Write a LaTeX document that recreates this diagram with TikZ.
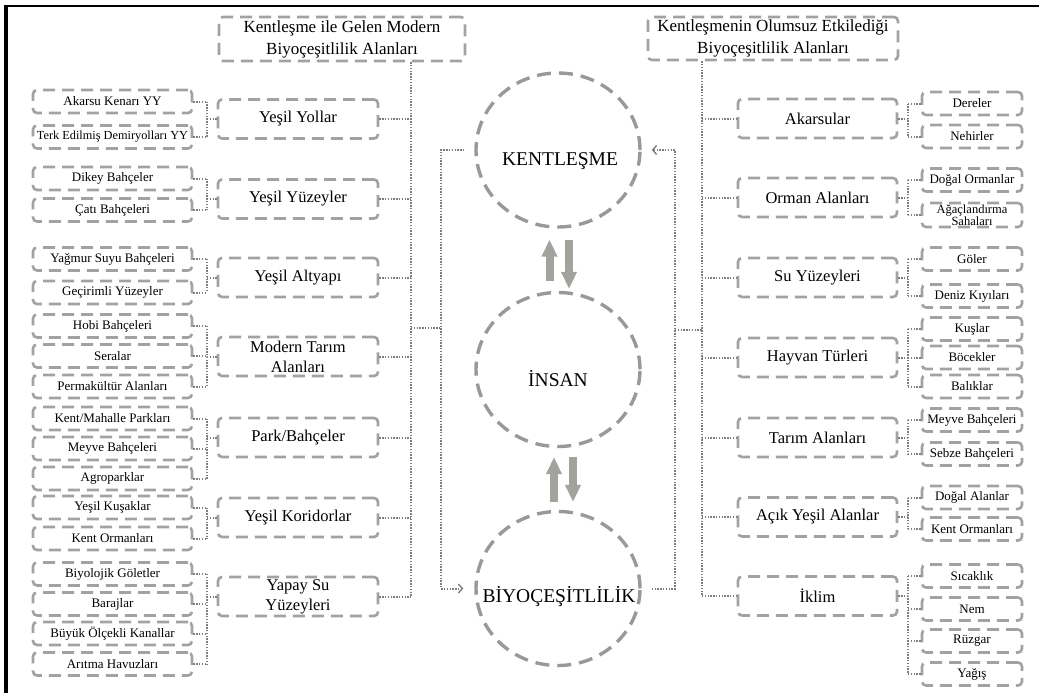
\documentclass[tikz,border=0pt]{standalone}
\usepackage{fontspec}
\setmainfont{Liberation Serif}
\usetikzlibrary{arrows.meta,shapes.geometric,calc}
\definecolor{boxgray}{HTML}{A2A2A2}
\definecolor{dotgray}{HTML}{7E7E7E}
\definecolor{circgray}{HTML}{999999}
\definecolor{arrgray}{HTML}{A3A39E}
\begin{document}
\begin{tikzpicture}[x=1pt,y=-1pt,
  sbox/.style={draw=boxgray, line width=2.6pt, dash pattern=on 12pt off 7pt, rounded corners=4pt,
    minimum width=159pt, minimum height=23pt, inner sep=0pt, align=center,
    font=\fontsize{13}{14}\selectfont},
  rsbox/.style={sbox, minimum width=100pt},
  mbox/.style={draw=boxgray, line width=2.6pt, dash pattern=on 12pt off 7pt, rounded corners=4pt,
    minimum width=160pt, minimum height=39pt, inner sep=0pt, align=center,
    font=\fontsize{16.5}{20}\selectfont},
  hbox/.style={mbox, font=\fontsize{17}{22}\selectfont},
  circ/.style={ellipse, draw=circgray, line width=3.4pt, dash pattern=on 14pt off 8pt,
    minimum width=164pt, minimum height=154pt, inner sep=0pt},
  ctext/.style={anchor=base, font=\fontsize{19.5}{22}\selectfont, inner sep=0pt},
  conn/.style={draw=dotgray, line width=2pt, dash pattern=on 1.4pt off 1.4pt},
  tip/.style={-{Straight Barb[length=4pt,width=9pt,line width=1.4pt]}},
  bigarrow/.style={draw=arrgray, line width=8pt, -{Triangle[width=15pt,length=17pt]}}
]
\useasboundingbox (0,0) rectangle (1039,693);
% frame
\draw[line width=2.5pt] (4,6) -- (1039,6);
\draw[line width=4pt] (6,4.75) -- (6,693);

% headers
\node[hbox, minimum width=246pt, minimum height=44pt] (LH) at (342,39) {Kentleşme ile Gelen Modern\\Biyoçeşitlilik Alanları};
\node[hbox, minimum width=250pt, minimum height=43pt] (RH) at (773,38.5) {Kentleşmenin Olumsuz Etkilediği\\Biyoçeşitlilik Alanları};

% circles
\node[circ] (K) at (558,150) {};
\node[circ] (I) at (558,369.5) {};
\node[circ] (B) at (558,588.5) {};
\node[ctext] (KT) at (560,165) {KENTLEŞME};
\node[ctext] (IT) at (558,386) {İNSAN};
\node[ctext] (BT) at (559,602) {BİYOÇEŞİTLİLİK};

% block arrows
\draw[bigarrow] ($(I.north)+(-8.5,-10)$) -- ($(K.south)+(-8.5,11)$);
\draw[bigarrow] ($(K.south)+(11,11)$) -- ($(I.north)+(11,-2)$);
\draw[bigarrow] ($(B.north)+(-4,-8)$) -- ($(I.south)+(-4,9)$);
\draw[bigarrow] ($(I.south)+(15,9)$) -- ($(B.north)+(15,-8)$);

% left main boxes
\node[mbox] (L1) at (298,119) {Yeşil Yollar};
\node[mbox] (L2) at (298,199) {Yeşil Yüzeyler};
\node[mbox] (L3) at (298,277.5) {Yeşil Altyapı};
\node[mbox] (L4) at (298,356.5) {Modern Tarım\\Alanları};
\node[mbox] (L5) at (298,437.5) {Park/Bahçeler};
\node[mbox] (L6) at (298,517.5) {Yeşil Koridorlar};
\node[mbox] (L7) at (298,596.5) {Yapay Su\\Yüzeyleri};

% left small boxes
\node[sbox] (L1a) at (112.5,101.5) {Akarsu Kenarı YY};
\node[sbox, font=\fontsize{12.3}{14}\selectfont] (L1b) at (112.5,137) {Terk Edilmiş Demiryolları YY};
\node[sbox] (L2a) at (112.5,178.5) {Dikey Bahçeler};
\node[sbox] (L2b) at (112.5,210) {Çatı Bahçeleri};
\node[sbox] (L3a) at (112.5,259) {Yağmur Suyu Bahçeleri};
\node[sbox] (L3b) at (112.5,292.5) {Geçirimli Yüzeyler};
\node[sbox] (L4a) at (112.5,326) {Hobi Bahçeleri};
\node[sbox] (L4b) at (112.5,356) {Seralar};
\node[sbox] (L4c) at (112.5,386.5) {Permakültür Alanları};
\node[sbox] (L5a) at (112.5,418.5) {Kent/Mahalle Parkları};
\node[sbox] (L5b) at (112.5,448.5) {Meyve Bahçeleri};
\node[sbox] (L5c) at (112.5,478.5) {Agroparklar};
\node[sbox] (L6a) at (112.5,507.5) {Yeşil Kuşaklar};
\node[sbox] (L6b) at (112.5,538.5) {Kent Ormanları};
\node[sbox] (L7a) at (112.5,574) {Biyolojik Göletler};
\node[sbox] (L7b) at (112.5,604) {Barajlar};
\node[sbox] (L7c) at (112.5,633.5) {Büyük Ölçekli Kanallar};
\node[sbox] (L7d) at (112.5,664) {Arıtma Havuzları};

% right main boxes
\node[mbox, minimum width=159pt] (R1) at (817.5,118.5) {Akarsular};
\node[mbox, minimum width=159pt] (R2) at (817.5,197.5) {Orman Alanları};
\node[mbox, minimum width=159pt] (R3) at (817.5,277.5) {Su Yüzeyleri};
\node[mbox, minimum width=159pt] (R4) at (817.5,357.5) {Hayvan Türleri};
\node[mbox, minimum width=159pt] (R5) at (817.5,437.5) {Tarım Alanları};
\node[mbox, minimum width=159pt] (R6) at (817.5,517) {Açık Yeşil Alanlar};
\node[mbox, minimum width=159pt] (R7) at (817.5,596) {İklim};

% right small boxes
\node[rsbox] (R1a) at (972,103.5) {Dereler};
\node[rsbox] (R1b) at (972,136.5) {Nehirler};
\node[rsbox] (R2a) at (972,180) {Doğal Ormanlar};
\node[rsbox, minimum height=24pt, font=\fontsize{12.5}{10}\selectfont] (R2b) at (972,215) {Ağaçlandırma\\Sahaları};
\node[rsbox] (R3a) at (972,259) {Göler};
\node[rsbox] (R3b) at (972,296) {Deniz Kıyıları};
\node[rsbox] (R4a) at (972,329) {Kuşlar};
\node[rsbox] (R4b) at (972,357.5) {Böcekler};
\node[rsbox] (R4c) at (972,386.5) {Balıklar};
\node[rsbox] (R5a) at (972,420) {Meyve Bahçeleri};
\node[rsbox] (R5b) at (972,454) {Sebze Bahçeleri};
\node[rsbox] (R6a) at (972,497.5) {Doğal Alanlar};
\node[rsbox] (R6b) at (972,529) {Kent Ormanları};
\node[rsbox] (R7a) at (972,576) {Sıcaklık};
\node[rsbox] (R7b) at (972,609) {Nem};
\node[rsbox] (R7c) at (972,641) {Rüzgar};
\node[rsbox] (R7d) at (972,674) {Yağış};

% helper coordinates
\coordinate (LB) at (207,0);
\coordinate (LT) at (411,0);
\coordinate (LI) at (441,328);
\coordinate (RB) at (908,0);
\coordinate (RT) at (702,0);
\coordinate (RI) at (675,330);

% left trunk
\draw[conn] (LH.south -| LT) -- (L7.east -| LT);
\foreach \g in {1,...,7} \draw[conn] (L\g.east) -- (L\g.east -| LT);
\draw[conn] (LI -| LT) -- (LI);
\draw[conn, tip] ([xshift=-10pt]K.west) -| (LI) |- ([xshift=-11pt]B.west);

% left branches
\foreach \g/\last in {1/b,2/b,3/b,4/c,5/c,6/b,7/d} {
  \draw[conn] (L\g a.east -| LB) -- (L\g\last.east -| LB);
  \draw[conn] (L\g.west -| LB) -- (L\g.west);
}
\foreach \n in {L1a,L1b,L2a,L2b,L3a,L3b,L4a,L4b,L4c,L5a,L5b,L5c,L6a,L6b,L7a,L7b,L7c,L7d}
  \draw[conn] (\n.east) -- (\n.east -| LB);

% right trunk
\draw[conn] (RH.south -| RT) -- (R7.west -| RT);
\foreach \g in {1,...,7} \draw[conn] (R\g.west -| RT) -- (R\g.west);
\draw[conn] (RI) -- (RI -| RT);
\draw[conn, tip] ([xshift=10pt]B.east) -| (RI) |- ([xshift=10pt]K.east);

% right branches
\foreach \g/\last in {1/b,2/b,3/b,4/c,5/b,6/b,7/d} {
  \draw[conn] (R\g a.west -| RB) -- (R\g\last.west -| RB);
  \draw[conn] (R\g.east) -- (R\g.east -| RB);
}
\foreach \n in {R1a,R1b,R2a,R2b,R3a,R3b,R4a,R4b,R4c,R5a,R5b,R6a,R6b,R7a,R7b,R7c,R7d}
  \draw[conn] (\n.west -| RB) -- (\n.west);
\end{tikzpicture}
\end{document}
